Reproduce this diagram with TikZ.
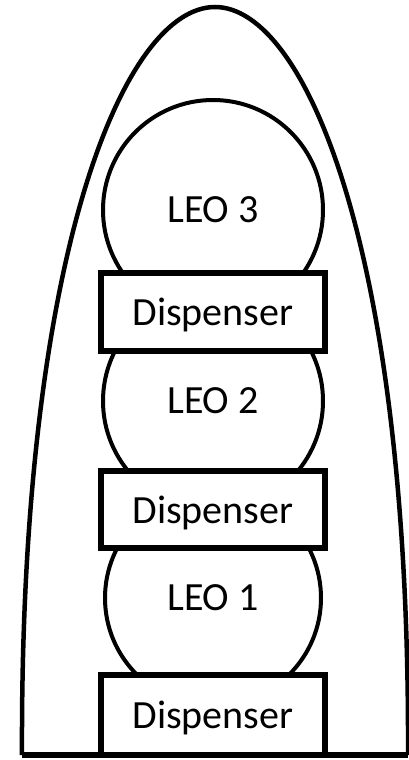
\documentclass[tikz,border=0pt]{standalone}
\usepackage{fontspec}
\setmainfont{Carlito}
\usetikzlibrary{positioning}

\begin{document}
\begin{tikzpicture}[
    x=1pt,
    y=-1pt,
    sat/.style={circle, minimum size=220pt, inner sep=0pt, draw=black, line width=4pt, text depth=0pt, font=\fontsize{40}{48}\selectfont},
    disp/.style={rectangle, minimum width=224pt, minimum height=78pt, inner sep=0pt, draw=black, fill=white, line width=5.5pt, text depth=0pt, font=\fontsize{40}{48}\selectfont},
    shell/.style={line width=4.5pt},
    floor/.style={line width=6pt}
]
    \useasboundingbox (0,0) rectangle (409,760);

    % Fairing
    \coordinate (baseL) at (22,755);
    \coordinate (tip) at (215,7);
    \coordinate (baseR) at (408,755);
    \draw[shell] (baseL) .. controls (20,250) and (125,7) .. (tip)
                         .. controls (305,7) and (410,250) .. (baseR);
    \draw[floor] (baseL) -- (baseR);

    % Satellites
    \node[sat] (leo3) at (213,210) {LEO 3};
    \node[sat, minimum size=220pt] (leo2) at (213,401) {LEO 2};
    \node[sat, minimum size=216pt] (leo1) at (213,598) {LEO 1};

    % Dispensers
    \node[disp] (disp3) at (213,312) {Dispenser};
    \node[disp, minimum height=77pt] (disp2) at (213,509.5) {Dispenser};
    \node[disp, minimum height=80pt] (disp1) at (213,715) {Dispenser};

\end{tikzpicture}
\end{document}
